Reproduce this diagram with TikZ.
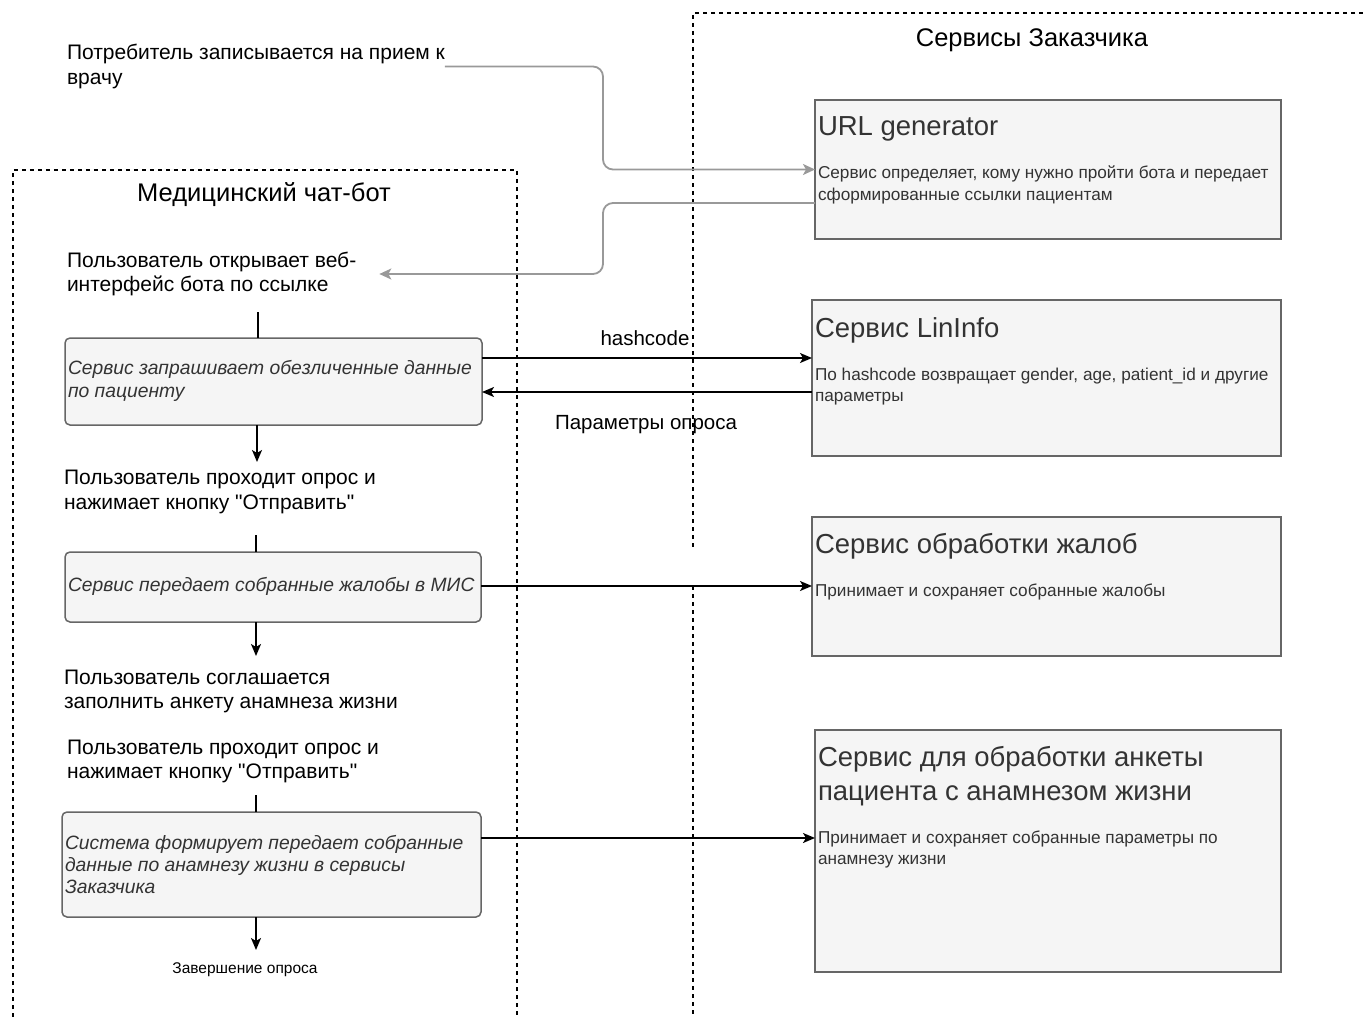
\documentclass[tikz,border=0pt]{standalone}
\usepackage{fontspec}
\setmainfont{Liberation Sans}[Ligatures=TeXOff]
\usetikzlibrary{arrows.meta,calc}
\definecolor{boxfill}{HTML}{F5F5F5}
\definecolor{boxline}{HTML}{666666}
\definecolor{txtgray}{HTML}{333333}
\definecolor{garrow}{HTML}{999999}
\begin{document}
\begin{tikzpicture}[x=1pt,y=-1pt,
  every node/.style={inner sep=0pt, outer sep=0pt},
  lbox/.style={draw=boxline, fill=boxfill, line width=1.5pt, rounded corners=5pt, anchor=north west},
  rbox/.style={draw=boxline, fill=boxfill, line width=1.5pt, anchor=north west},
  plaintxt/.style={align=left, anchor=west, font=\fontsize{21}{24.5}\selectfont},
  boxtxt/.style={align=left, anchor=west, text=txtgray, font=\fontsize{19.3}{23}\selectfont\itshape},
  rtitle/.style={align=left, anchor=west, text=txtgray, font=\fontsize{27.5}{34}\selectfont},
  rbody/.style={align=left, anchor=west, text=txtgray, font=\fontsize{17.2}{21.5}\selectfont},
  ctitle/.style={anchor=center, font=\fontsize{25.5}{30}\selectfont},
  cont/.style={line width=1.5pt, dash pattern=on 4pt off 4pt},
  arr/.style={line width=1.6pt, -{Stealth[length=12pt,width=10pt,inset=3pt]}},
  plainline/.style={line width=1.6pt},
  garr/.style={draw=garrow, line width=1.8pt, rounded corners=10pt, -{Stealth[length=12pt,width=11pt,inset=3pt]}}
]
\useasboundingbox (0,0) rectangle (1363,1017);

% containers
\draw[cont] (13,1017) -- (13,170) -- (517,170) -- (517,1017);
\draw[cont] (1363,13) -- (693,13) -- (693,548);
\draw[cont] (693,586) -- (693,1017);

\node[ctitle] (tright) at (1032,40) {Сервисы Заказчика};
\node[ctitle] (tleft) at (264,195) {Медицинский чат-бот};

% left texts
\node[plaintxt] (t1) at (67,66.5) {Потребитель записывается на прием к\\врачу};
\node[plaintxt] (t2) at (67,274) {Пользователь открывает веб-\\интерфейс бота по ссылке};
\node[plaintxt] (t3) at (64,492) {Пользователь проходит опрос и\\нажимает кнопку "Отправить"};
\node[plaintxt] (t4) at (64,691.5) {Пользователь соглашается\\заполнить анкету анамнеза жизни};
\node[plaintxt] (t5) at (67,761.5) {Пользователь проходит опрос и\\нажимает кнопку "Отправить"};
\node[anchor=center, font=\fontsize{15.5}{18}\selectfont] (tend) at (245,970) {Завершение опроса};

% left boxes
\node[lbox, minimum width=417pt, minimum height=87pt] (b1) at (65,338) {};
\node[boxtxt] (b1t) at (68,381) {Сервис запрашивает обезличенные данные\\по пациенту};
\node[lbox, minimum width=416pt, minimum height=70pt] (b2) at (65,552) {};
\node[boxtxt] (b2t) at (68,586) {Сервис передает собранные жалобы в МИС};
\node[lbox, minimum width=419pt, minimum height=105pt] (b3) at (62,812) {};
\node[boxtxt, font=\fontsize{19.3}{22}\selectfont\itshape] (b3t) at (65,865) {Система формирует передает собранные\\данные по анамнезу жизни в сервисы\\Заказчика};

% right boxes
\node[rbox, minimum width=466pt, minimum height=139pt] (url) at (815,100) {};
\node[rtitle] (urlt) at (818,129) {URL generator};
\node[rbody] (urlb) at (818,185) {Сервис определяет, кому нужно пройти бота и передает\\сформированные ссылки пациентам};

\node[rbox, minimum width=469pt, minimum height=156pt] (lin) at (812,300) {};
\node[rtitle] (lint) at (815,330) {Сервис LinInfo};
\node[rbody] (linb) at (815,386.5) {По hashcode возвращает gender, age, patient\_id и другие\\параметры};

\node[rbox, minimum width=469pt, minimum height=139pt] (zh) at (812,517) {};
\node[rtitle] (zht) at (815,546) {Сервис обработки жалоб};
\node[rbody] (zhb) at (815,592) {Принимает и сохраняет собранные жалобы};

\node[rbox, minimum width=466pt, minimum height=242pt] (ank) at (815,730) {};
\node[rtitle] (ankt) at (818,776) {Сервис для обработки анкеты\\пациента с анамнезом жизни};
\node[rbody] (ankb) at (818,849.5) {Принимает и сохраняет собранные параметры по\\анамнезу жизни};

% labels
\node[anchor=center, font=\fontsize{20.5}{24}\selectfont] (lhash) at (645,338) {hashcode};
\node[anchor=center, font=\fontsize{20.5}{24}\selectfont] (lpar) at (646,425) {Параметры опроса};

% helper coordinates
\coordinate (gx) at (603,0);
\coordinate (g2) at (0,203);
\coordinate (c1) at (258,312);
\coordinate (a1) at (257,462);
\coordinate (c2) at (256,535);
\coordinate (a2) at (256,656);
\coordinate (c3) at (256,795);
\coordinate (a3) at (256,950);
\coordinate (hy) at (0,358);
\coordinate (ry) at (0,392);
\coordinate (zy) at (0,586);
\coordinate (ay) at (0,838);

% gray connectors
\draw[garr] (t1.east) -| (gx |- url.west) -- (url.west);
\draw[garr] (url.west |- g2) -| (gx |- t2.east) -- ($(t2.east)+(23,0)$);

% flow
\draw[plainline] (c1) -- (c1 |- b1.north);
\draw[arr] (a1 |- b1.south) -- (a1);
\draw[plainline] (c2) -- (c2 |- b2.north);
\draw[arr] (a2 |- b2.south) -- (a2);
\draw[plainline] (c3) -- (c3 |- b3.north);
\draw[arr] (a3 |- b3.south) -- (a3);

% horizontal
\draw[arr] (b1.east |- hy) -- (lin.west |- hy);
\draw[arr] (lin.west |- ry) -- (b1.east |- ry);
\draw[arr] (b2.east |- zy) -- (zh.west |- zy);
\draw[arr] (b3.east |- ay) -- (ank.west |- ay);
\end{tikzpicture}
\end{document}
